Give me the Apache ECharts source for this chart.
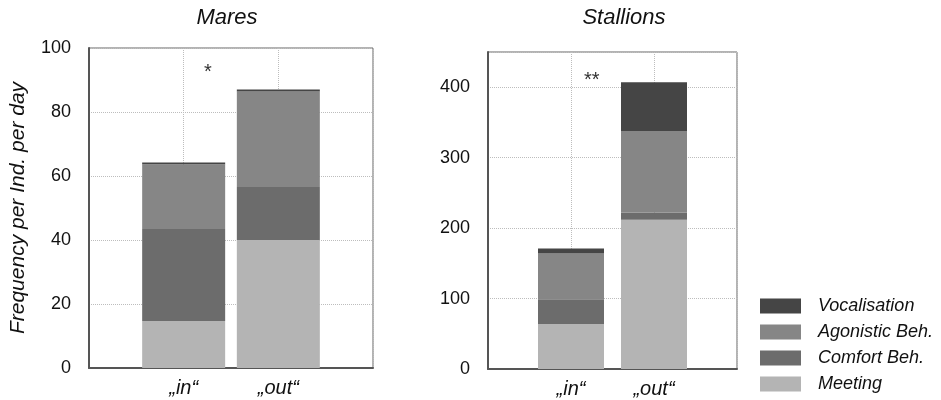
<!DOCTYPE html>
<html>
<head>
<meta charset="utf-8">
<script src="https://cdn.jsdelivr.net/npm/echarts@6/dist/echarts.min.js"></script>
<style>
  html, body { margin: 0; padding: 0; background: #fff; }
  #chart { width: 941px; height: 400px; }
</style>
</head>
<body>
<div id="chart"></div>
<script>
// categories (blank slots at both ends so the bars sit at 1/3 and 2/3 of the box)
var groups = ['„in“', '„out“'];
var seriesNames = ['Meeting', 'Comfort Beh.', 'Agonistic Beh.', 'Vocalisation'];
var colors = ['#b4b4b4', '#6c6c6c', '#868686', '#454545'];

// Mares, per ind. per day
var maresMeeting = [14.7, 40];
var maresComfort = [28.7, 16.6];
var maresAgonistic = [20.3, 29.8];
var maresVocal = [0.5, 0.6];

// Stallions, per ind. per day
var stallMeeting = [64, 212];
var stallComfort = [35, 10];
var stallAgonistic = [65, 116];
var stallVocal = [7, 69];

var maresTicks = [0, 20, 40, 60, 80, 100];
var stallTicks = [0, 100, 200, 300, 400];

var font = 'Liberation Sans, Arial, sans-serif';
var cats = [''].concat(groups).concat(['']);
function pad(arr) { return ['-'].concat(arr).concat(['-']); }

var maresData = [maresMeeting, maresComfort, maresAgonistic, maresVocal];
var stallData = [stallMeeting, stallComfort, stallAgonistic, stallVocal];

function xAxisFor(idx) {
    return {
        type: 'category', gridIndex: idx, data: cats, boundaryGap: false,
        axisLine: { lineStyle: { color: '#555', width: 2 } },
        axisTick: { show: false },
        axisLabel: { margin: 10, fontSize: 20, fontStyle: 'italic', color: '#111', fontFamily: font },
        splitLine: { show: true, lineStyle: { color: '#bdbdbd', type: 'dotted', width: 1 } }
    };
}
function yAxisFor(idx, max, interval, extra) {
    var ax = {
        type: 'value', gridIndex: idx, min: 0, max: max, interval: interval,
        axisLine: { show: true, lineStyle: { color: '#555', width: 2 } },
        axisTick: { show: false },
        axisLabel: { margin: 18, fontSize: 18, color: '#111', fontFamily: font, showMaxLabel: max === 100 },
        splitLine: { show: true, lineStyle: { color: '#bdbdbd', type: 'dotted', width: 1 } }
    };
    for (var k in extra) ax[k] = extra[k];
    return ax;
}

var series = [];
for (var i = 0; i < 4; i++) {
    series.push({
        name: seriesNames[i], type: 'bar', stack: 'mares', xAxisIndex: 0, yAxisIndex: 0,
        barWidth: 83, itemStyle: { color: colors[i] }, data: pad(maresData[i])
    });
    series.push({
        name: seriesNames[i], type: 'bar', stack: 'stall', xAxisIndex: 1, yAxisIndex: 1,
        barWidth: 66, itemStyle: { color: colors[i] }, data: pad(stallData[i])
    });
}

var chart = echarts.init(document.getElementById('chart'));
chart.setOption({
    animation: false,
    backgroundColor: '#fff',
    textStyle: { fontFamily: font },
    title: [
        { text: 'Mares', left: 222, top: 2, textAlign: 'center',
          textStyle: { fontSize: 22, fontStyle: 'italic', fontWeight: 'normal', color: '#111', fontFamily: font } },
        { text: 'Stallions', left: 619, top: 2, textAlign: 'center',
          textStyle: { fontSize: 22, fontStyle: 'italic', fontWeight: 'normal', color: '#111', fontFamily: font } }
    ],
    legend: {
        orient: 'vertical', left: 760, top: 297, height: 100, padding: 0,
        itemWidth: 41, itemHeight: 15, itemGap: 8,
        icon: 'rect',
        data: ['Vocalisation', 'Agonistic Beh.', 'Comfort Beh.', 'Meeting'],
        textStyle: { fontSize: 18, fontStyle: 'italic', color: '#111', fontFamily: font, lineHeight: 18, padding: [0, 0, 0, 12] }
    },
    grid: [
        { left: 89, top: 48, width: 284, height: 320, show: true, borderColor: '#666', borderWidth: 1 },
        { left: 488, top: 52, width: 249, height: 317, show: true, borderColor: '#666', borderWidth: 1 }
    ],
    xAxis: [xAxisFor(0), xAxisFor(1)],
    yAxis: [
        yAxisFor(0, maresTicks[maresTicks.length - 1], 20, {
            name: 'Frequency per Ind. per day', nameLocation: 'middle', nameGap: 60,
            nameTextStyle: { fontSize: 21, fontStyle: 'italic', color: '#111', fontFamily: font }
        }),
        yAxisFor(1, 450, 100, {})
    ],
    graphic: [
        { type: 'text', left: 204, top: 62, style: { text: '*', fontSize: 20, fill: '#333', fontFamily: font } },
        { type: 'text', left: 584, top: 70, style: { text: '**', fontSize: 20, fill: '#333', fontFamily: font } }
    ],
    series: series
});
</script>
</body>
</html>
